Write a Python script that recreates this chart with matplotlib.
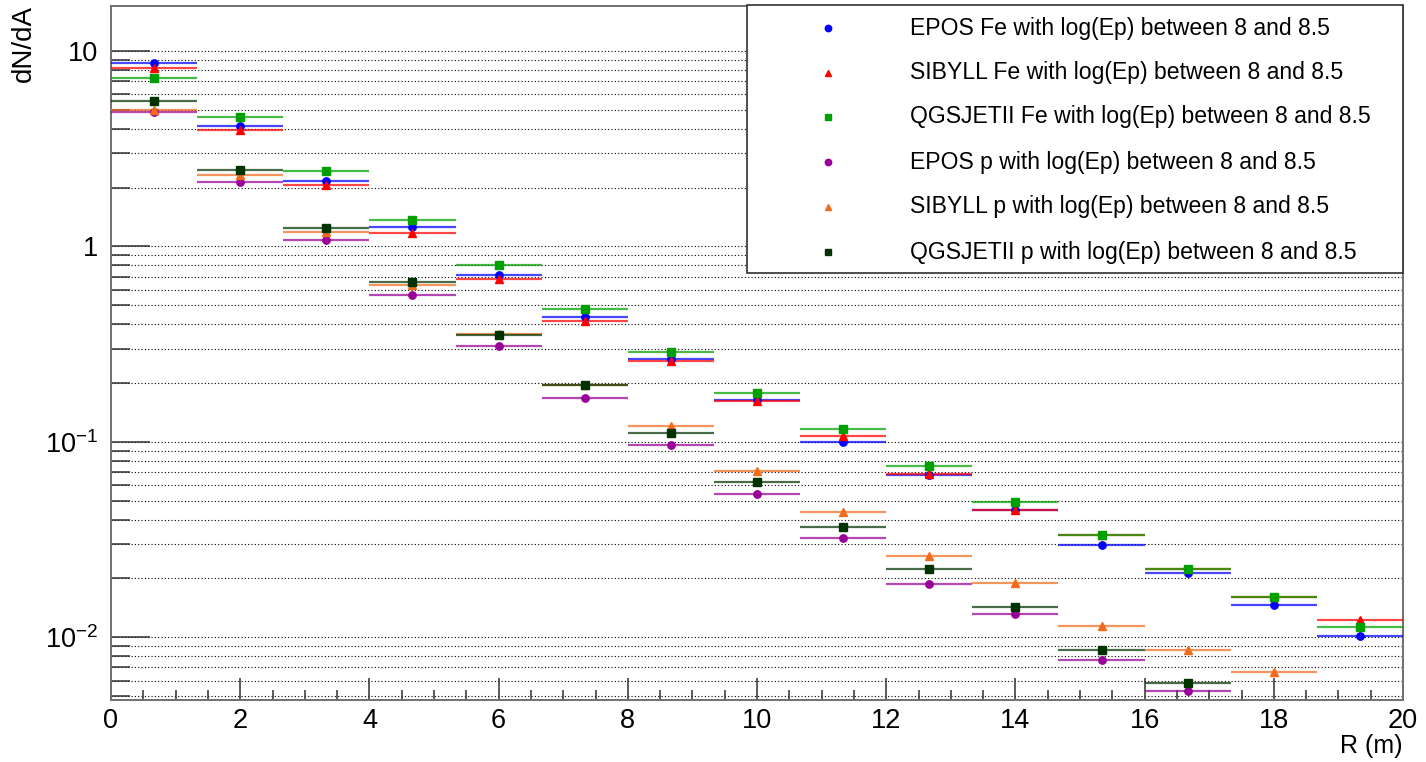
import numpy as np
import matplotlib
matplotlib.use("Agg")
import matplotlib.pyplot as plt
from matplotlib.patches import Rectangle

plt.rcParams["font.family"] = ["Liberation Sans", "DejaVu Sans"]

# 15 radial bins between 0 and 20 m
bin_edges = np.linspace(0, 20, 16)
r_centers = 0.5 * (bin_edges[:-1] + bin_edges[1:])
r_halfwidth = 0.5 * np.diff(bin_edges)

nan = np.nan
epos_fe = [8.71, 4.13, 2.16, 1.25, 0.718, 0.436, 0.266, 0.163, 0.1003, 0.0675,
           0.0447, 0.0298, 0.0214, 0.01462, 0.0101]
sibyll_fe = [8.15, 3.94, 2.07, 1.17, 0.682, 0.416, 0.2587, 0.161, 0.1068, 0.0688,
             0.0449, 0.0334, 0.0224, 0.0160, 0.0123]
qgsjet_fe = [7.30, 4.61, 2.43, 1.37, 0.802, 0.476, 0.2865, 0.178, 0.1164, 0.0752,
             0.0491, 0.0335, 0.0223, 0.0161, 0.01129]
epos_p = [4.89, 2.14, 1.08, 0.567, 0.309, 0.167, 0.0961, 0.0539, 0.0320, 0.0188,
          0.0132, 0.00762, 0.00529, nan, nan]
sibyll_p = [5.02, 2.33, 1.18, 0.638, 0.355, 0.196, 0.120, 0.0705, 0.0435, 0.0259,
            0.0190, 0.0114, 0.00857, 0.0066, nan]
qgsjet_p = [5.57, 2.46, 1.24, 0.654, 0.354, 0.1956, 0.111, 0.0626, 0.0368, 0.02245,
            0.0142, 0.00864, 0.00586, nan, nan]

series = [
    ("EPOS Fe with log(Ep) between 8 and 8.5", epos_fe, "#0000ff", "o"),
    ("SIBYLL Fe with log(Ep) between 8 and 8.5", sibyll_fe, "#ff0000", "^"),
    ("QGSJETII Fe with log(Ep) between 8 and 8.5", qgsjet_fe, "#00a000", "s"),
    ("EPOS p with log(Ep) between 8 and 8.5", epos_p, "#990099", "o"),
    ("SIBYLL p with log(Ep) between 8 and 8.5", sibyll_p, "#f26b1d", "^"),
    ("QGSJETII p with log(Ep) between 8 and 8.5", qgsjet_p, "#003300", "s"),
]
marker_size = {"o": 5.3, "^": 5.8, "s": 5.1}

W, H = 1426, 762
fig = plt.figure(figsize=(W / 100, H / 100), dpi=100)
ax = fig.add_axes([111 / W, 1 - 700 / H, (1403 - 111) / W, (700 - 6) / H])

ax.set_yscale("log")
ax.set_xlim(0, 20)
ax.set_ylim(0.00477, 17.0)

# dotted grid on every y tick of the log axis
majors = [0.01, 0.1, 1, 10]
minors = [k * 10.0 ** e for e in range(-3, 2) for k in range(2, 10)]
minors = [m for m in minors if 0.00477 < m < 17]
for yv in majors + minors:
    ax.axhline(yv, color="black", lw=0.8, ls=(0, (1, 2)), zorder=1)

for name, vals, col, mk in series:
    eb = ax.errorbar(r_centers, vals, xerr=r_halfwidth, fmt=mk, color=col,
                     ms=marker_size[mk], mec=col, elinewidth=1.6, capsize=0,
                     zorder=3)
    eb[2][0].set_alpha(0.72)

ax.set_yticks(majors)
ax.set_yticklabels([r"$\mathregular{10^{-2}}$", r"$\mathregular{10^{-1}}$", "1", "10"])
ax.set_yticks(minors, minor=True)
ax.set_xticks(np.arange(0, 21, 2))
ax.set_xticks(np.arange(0, 20.01, 0.5), minor=True)

tick_col = "#303030"
ax.tick_params(axis="y", which="major", direction="in", length=28, width=1.1,
               color=tick_col, labelsize=19.5, pad=9)
ax.tick_params(axis="y", which="minor", direction="in", length=14, width=1.1,
               color=tick_col)
ax.tick_params(axis="x", which="major", direction="in", length=15.5, width=1.1,
               color=tick_col, labelsize=19.5, pad=6)
ax.tick_params(axis="x", which="minor", direction="in", length=7.5, width=1.1,
               color=tick_col)
for s in ax.spines.values():
    s.set_linewidth(1.4)
    s.set_color("#707070")

fig.text(24 / W, 1 - 5 / H, "dN/dA", rotation=90, ha="center", va="top", fontsize=20)
fig.text(1402 / W, 1 - 746 / H, "R (m)", ha="right", va="center", fontsize=18)

# legend box in the top right corner
box = Rectangle((747 / W, 1 - 273 / H), (1403 - 747) / W, (273 - 5) / H,
                transform=fig.transFigure, facecolor="white", edgecolor="#303030",
                lw=1.2, zorder=10)
fig.add_artist(box)
row_y = [28, 73, 117, 162, 207, 252]
for (name, vals, col, mk), yy in zip(series, row_y):
    fig.add_artist(plt.Line2D([828 / W], [1 - yy / H], marker=mk, color=col, ms=4.6,
                              ls="none", transform=fig.transFigure, zorder=11))
    fig.text(910 / W, 1 - yy / H, name, ha="left", va="center", fontsize=16.6,
             zorder=11)

fig.savefig("out.png", dpi=100)
